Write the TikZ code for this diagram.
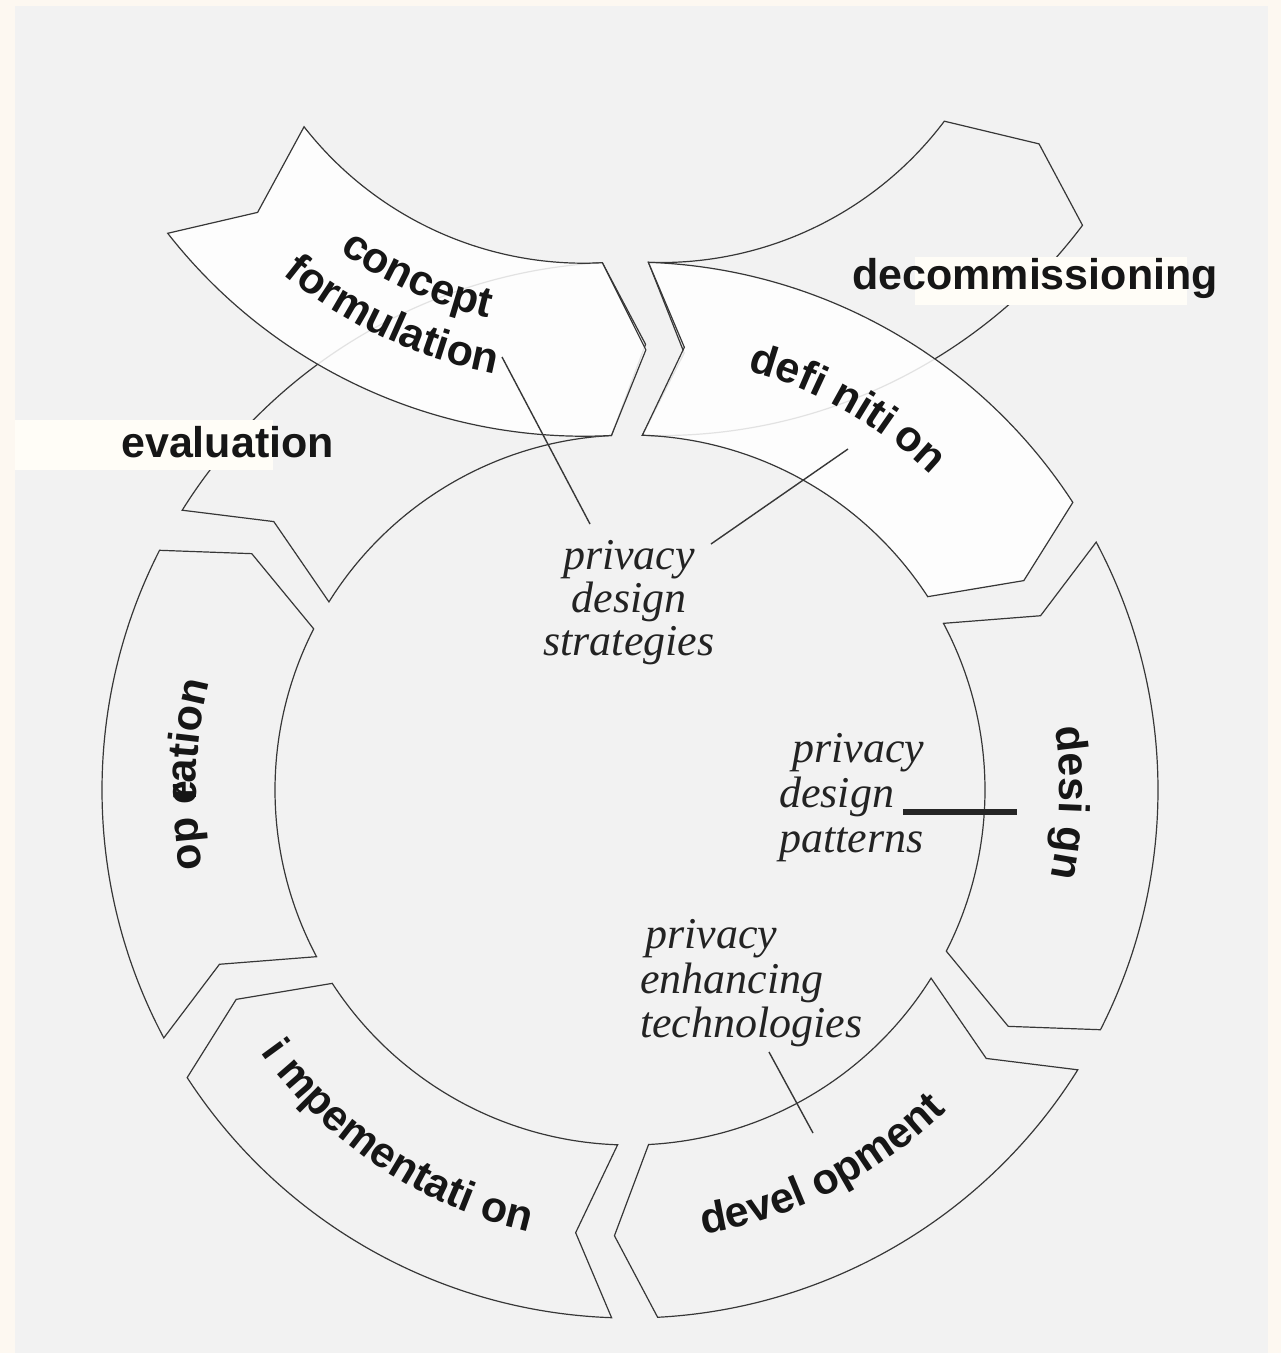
\documentclass[tikz,border=0pt]{standalone}
\usepackage{fontspec}
\setsansfont{Liberation Sans}
\newfontfamily\notefont{Liberation Serif}
\usetikzlibrary{decorations.text}

\definecolor{margincol}{RGB}{253,248,241}
\definecolor{panelcol}{RGB}{242,242,242}
\definecolor{tagcol}{RGB}{255,253,247}
\definecolor{edgecol}{RGB}{55,55,55}
\definecolor{inkcol}{RGB}{22,22,22}
\definecolor{notecol}{RGB}{35,35,35}

\newcommand\labfont{\sffamily\bfseries\fontsize{43}{50}\selectfont}
\newcommand\notestyle{\notefont\itshape\fontsize{44}{44}\selectfont}

% one arrow segment of a ring: #1 options, #2/#3 ring centre,
% #4 tail angle, #5 running sense (+1 counter-clockwise, -1 clockwise)
\newcommand\ringseg[5]{%
  \pgfmathsetmacro\rsT{#4}%
  \pgfmathsetmacro\rsH{#4+55*(#5)}%
  \pgfmathsetmacro\rsP{#4+60*(#5)}%
  \pgfmathsetmacro\rsN{#4+5*(#5)}%
  \path[#1] ([shift={(#2,#3)}]\rsT:528pt) arc[start angle=\rsT, end angle=\rsH, radius=528pt]
    -- ([shift={(#2,#3)}]\rsP:446pt) -- ([shift={(#2,#3)}]\rsH:355pt)
    arc[start angle=\rsH, end angle=\rsT, radius=355pt]
    -- ([shift={(#2,#3)}]\rsN:446pt) -- cycle;}

% bold label set along an arc: #1/#2 centre, #3 radius, #4 start angle, #5 end angle, #6 text
\newcommand\arclabel[6]{%
  \path[decorate, decoration={text along path, text align=center,
      text color=inkcol, text={|\labfont|#6}}]
    ([shift={(#1,#2)}]#4:#3pt) arc[start angle=#4, end angle=#5, radius=#3pt];}

% part of a label along an arc, starting #6 along the arc
\newcommand\arcpiece[7]{%
  \path[decorate, decoration={text along path, text align={left, left indent=#6},
      text color=inkcol, text={|\labfont|#7}}]
    ([shift={(#1,#2)}]#4:#3pt) arc[start angle=#4, end angle=#5, radius=#3pt];}

\tikzset{
  segment/.style={draw=edgecol, line width=1.2pt, fill=panelcol, line join=miter},
  raised/.style={draw=edgecol, line width=1.2pt, fill=white, fill opacity=0.86, line join=miter},
  lead/.style={draw=edgecol, line width=1.4pt},
  heavylead/.style={draw=black!85, line width=5.5pt},
  note/.style={inner sep=0pt, text=notecol, font=\notestyle},
  tag/.style={inner sep=0pt, text=inkcol, font=\labfont}
}

\begin{document}
\begin{tikzpicture}[x=1pt, y=1pt]
  \useasboundingbox (0,0) rectangle (1281,-1353);
  \fill[margincol] (0,0) rectangle (1281,-1353);
  \fill[panelcol] (15,-6) rectangle (1268,-1353);

  % life-cycle ring, centre (630,-790)
  \ringseg{segment}{630}{-790}{148}{-1}   % evaluation
  \ringseg{segment}{630}{-790}{208}{-1}   % operation
  \ringseg{segment}{630}{-790}{28}{-1}    % design
  \ringseg{segment}{630}{-790}{-32}{-1}   % development
  \ringseg{segment}{630}{-790}{-92}{-1}   % implementation
  % decommissioning, folded outwards about the tail of definition
  \ringseg{segment}{660.82}{92.46}{-92}{1}

  % highlighted phases
  \ringseg{raised}{583.79}{91.79}{-142}{1} % concept formulation
  \ringseg{raised}{630}{-790}{88}{-1}      % definition

  % label plates
  \fill[tagcol] (15,-420) rectangle (273,-470);
  \fill[tagcol] (915,-257) rectangle (1187,-305);
  \node[tag, anchor=base west] (evaluation) at (121,-457) {evaluation};
  \node[tag, anchor=base west] (decommissioning) at (852,-289) {decommissioning};

  % phase names along the ring
  \arclabel{583.79}{91.79}{421}{-144.3}{-84.3}{concept}
  \arclabel{583.79}{91.79}{474}{-145.1}{-85.1}{formulation}
  \arcpiece{630}{-790}{436}{90.9}{30.9}{126pt}{defi}
  \arcpiece{630}{-790}{436}{90.9}{30.9}{214pt}{niti}
  \arcpiece{630}{-790}{436}{90.9}{30.9}{287pt}{on}
  \arclabel{630}{-790}{430}{28.3}{-31.7}{desi gn}
  \arclabel{630}{-790}{450}{-93}{-33}{devel opment}
  \arclabel{630}{-790}{453}{-153.7}{-93.7}{i mpementati on}
  \arcpiece{630}{-790}{434}{208}{148}{133pt}{op e}
  \arcpiece{630}{-790}{434}{208}{148}{202pt}{ration}

  % privacy notes
  \node[note, anchor=base] (strat1) at (629,-569) {privacy};
  \node[note, anchor=base] (strat2) at (629,-612) {design};
  \node[note, anchor=base] (strat3) at (629,-655) {strategies};
  \node[note, anchor=base west] (pat1) at (792,-762) {privacy};
  \node[note, anchor=base west] (pat2) at (779,-807) {design};
  \node[note, anchor=base west] (pat3) at (779,-852) {patterns};
  \node[note, anchor=base west] (pet1) at (645,-948) {privacy};
  \node[note, anchor=base west] (pet2) at (640,-993) {enhancing};
  \node[note, anchor=base west] (pet3) at (640,-1037) {technologies};

  % leader lines
  \coordinate (cfTip) at (502,-357);
  \coordinate (stratTop) at (590,-524);
  \coordinate (defTip) at (848,-449);
  \coordinate (stratSide) at (711,-544);
  \coordinate (patEnd) at (903,-812);
  \coordinate (desTip) at (1017,-812);
  \coordinate (petEnd) at (769,-1052);
  \coordinate (devTip) at (813,-1133);
  \draw[lead] (cfTip) -- (stratTop);
  \draw[lead] (defTip) -- (stratSide);
  \draw[heavylead] (patEnd) -- (desTip);
  \draw[lead] (petEnd) -- (devTip);
\end{tikzpicture}
\end{document}
